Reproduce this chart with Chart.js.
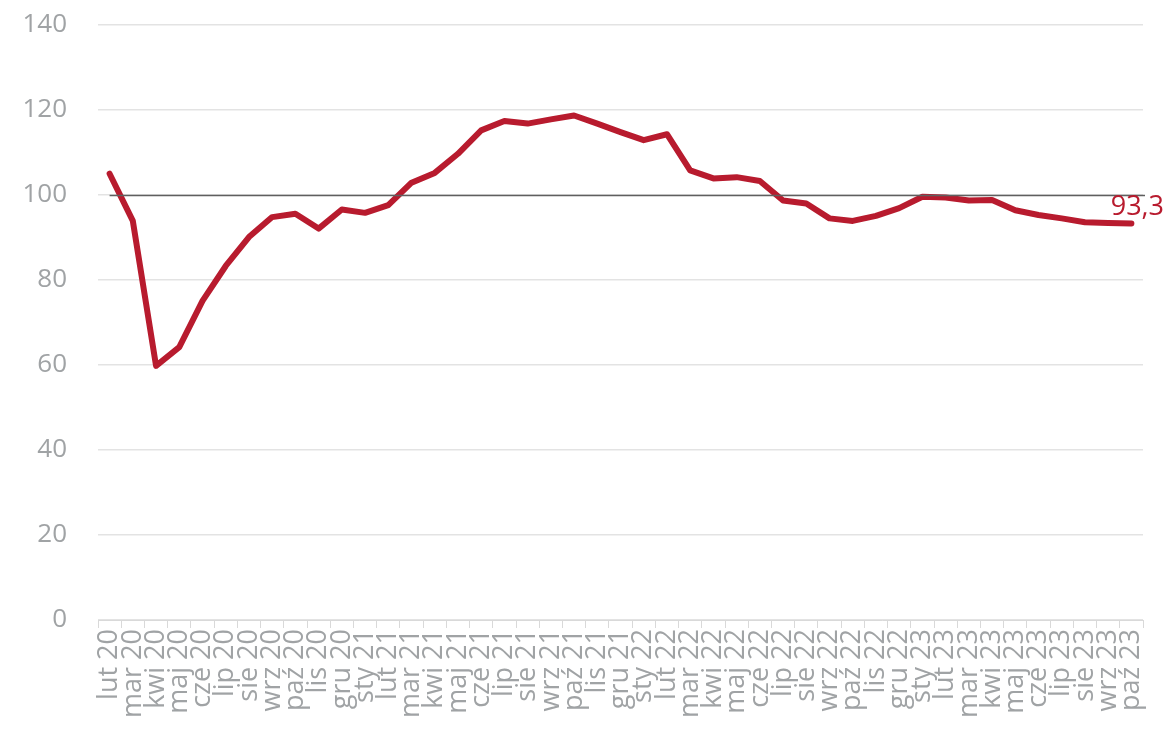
<!DOCTYPE html>
<html>
<head>
<meta charset="utf-8">
<script src="https://cdn.jsdelivr.net/npm/chart.js@4.4.1/dist/chart.umd.min.js"></script>
<style>
  html, body { margin: 0; padding: 0; background: #fff; }
  #wrap { width: 1168px; height: 730px; position: relative; }
</style>
</head>
<body>
<div id="wrap"><canvas id="chart"></canvas></div>
<script>
const labels = [
  'lut 20', 'mar 20', 'kwi 20', 'maj 20', 'cze 20', 'lip 20', 'sie 20', 'wrz 20', 'paź 20', 'lis 20', 'gru 20',
  'sty 21', 'lut 21', 'mar 21', 'kwi 21', 'maj 21', 'cze 21', 'lip 21', 'sie 21', 'wrz 21', 'paź 21', 'lis 21', 'gru 21',
  'sty 22', 'lut 22', 'mar 22', 'kwi 22', 'maj 22', 'cze 22', 'lip 22', 'sie 22', 'wrz 22', 'paź 22', 'lis 22', 'gru 22',
  'sty 23', 'lut 23', 'mar 23', 'kwi 23', 'maj 23', 'cze 23', 'lip 23', 'sie 23', 'wrz 23', 'paź 23'
];
const values = [
  105.0, 93.9, 59.8, 64.2, 75.1, 83.3, 90.1, 94.8, 95.6, 92.1, 96.6,
  95.8, 97.6, 102.9, 105.2, 109.7, 115.2, 117.4, 116.8, 117.8, 118.7, 116.8, 114.8,
  112.9, 114.3, 105.8, 103.9, 104.2, 103.3, 98.7, 98.0, 94.5, 93.9, 95.1, 96.9,
  99.6, 99.4, 98.7, 98.8, 96.4, 95.3, 94.5, 93.6, 93.4, 93.3
];
const refValue = 100;
const yTicks = [0, 20, 40, 60, 80, 100, 120, 140];

const red = '#B81B2E';
const gray = '#A0A3A5';

// reference line at 100, from the first point to the right edge
const refLine = {
  id: 'refLine',
  afterDatasetsDraw(chart) {
    const { ctx, chartArea, scales } = chart;
    const y = Math.round(scales.y.getPixelForValue(refValue)) + 0.5;
    ctx.save();
    ctx.strokeStyle = '#5F5F5F';
    ctx.lineWidth = 1.5;
    ctx.beginPath();
    ctx.moveTo(scales.x.getPixelForValue(0), y);
    ctx.lineTo(chartArea.right + 2, y);
    ctx.stroke();
    ctx.restore();
  }
};

// last value label
const lastLabel = {
  id: 'lastLabel',
  afterDraw(chart) {
    const meta = chart.getDatasetMeta(0);
    const pt = meta.data[meta.data.length - 1];
    const v = values[values.length - 1];
    const ctx = chart.ctx;
    ctx.save();
    ctx.font = '27px "Open Sans"';
    ctx.fillStyle = red;
    ctx.textAlign = 'center';
    ctx.textBaseline = 'bottom';
    ctx.fillText(v.toFixed(1).replace('.', ','), pt.x + 6, pt.y - 3);
    ctx.restore();
  }
};

new Chart(document.getElementById('chart'), {
  type: 'line',
  data: {
    labels: labels,
    datasets: [{
      data: values,
      borderColor: red,
      borderWidth: 6,
      pointRadius: 0,
      tension: 0,
      fill: false,
      borderCapStyle: 'round',
      borderJoinStyle: 'round'
    }]
  },
  options: {
    responsive: true,
    maintainAspectRatio: false,
    animation: false,
    layout: { padding: { left: 22, right: 25, top: 25, bottom: 0 } },
    plugins: {
      legend: { display: false },
      tooltip: { enabled: false }
    },
    scales: {
      x: {
        offset: true,
        afterFit(scale) {
          scale.height = 110;
          scale.paddingLeft = 0;
          scale.paddingRight = 0;
        },
        grid: {
          offset: true,
          drawOnChartArea: false,
          drawTicks: true,
          tickLength: 8,
          color: '#D9D9D9'
        },
        border: { color: '#D9D9D9', width: 1 },
        ticks: {
          autoSkip: false,
          maxRotation: 90,
          minRotation: 90,
          padding: 1,
          color: gray,
          font: { family: '"Open Sans"', size: 27 }
        }
      },
      y: {
        min: 0,
        max: 140,
        afterBuildTicks(scale) { scale.ticks = yTicks.map(v => ({ value: v })); },
        afterFit(scale) {
          scale.width = 76;
          scale.paddingTop = 0;
          scale.paddingBottom = 0;
        },
        grid: { color: '#E3E3E3', lineWidth: 1.5, drawTicks: false },
        border: { display: false },
        ticks: {
          padding: 31,
          color: gray,
          font: { family: '"Open Sans"', size: 26 }
        }
      }
    }
  },
  plugins: [refLine, lastLabel]
});
</script>
</body>
</html>
